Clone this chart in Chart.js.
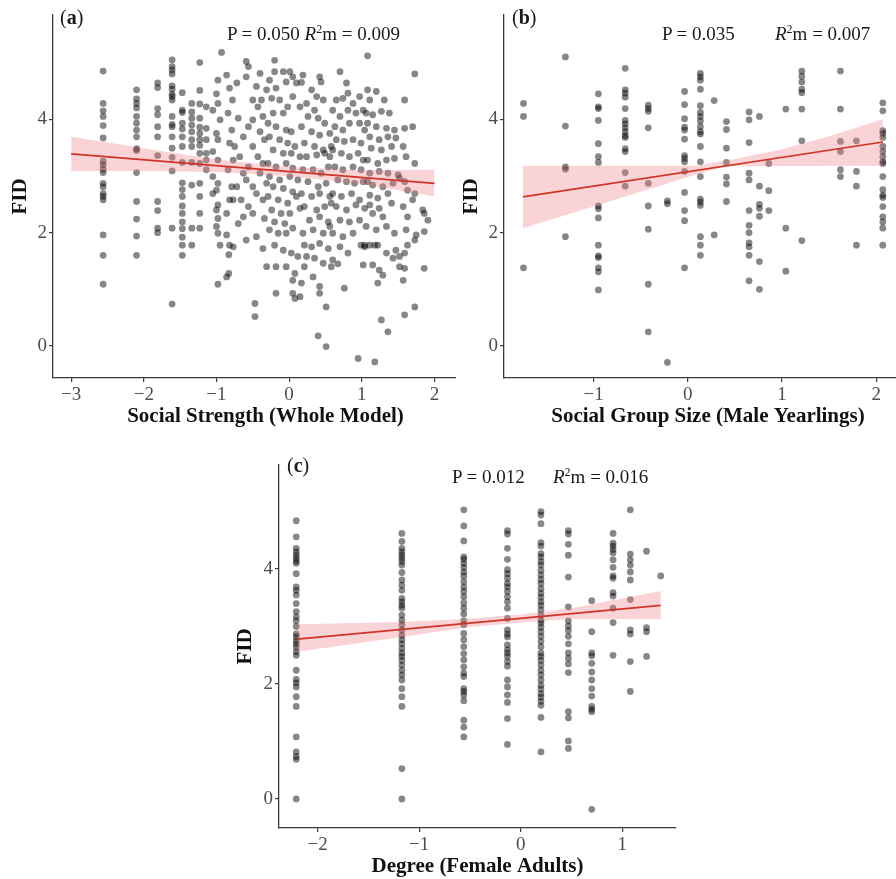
<!DOCTYPE html>
<html>
<head>
<meta charset="utf-8">
<script src="https://cdn.jsdelivr.net/npm/chart.js@4.4.0/dist/chart.umd.min.js"></script>
<style>
  html, body { margin: 0; padding: 0; background: #fff; overflow: hidden; width: 896px; height: 879px; }
  canvas { position: absolute; background: #fff; }
  .lab { position: absolute; font-family: 'Liberation Serif', serif; color: #1a1a1a; white-space: nowrap; line-height: 1; }
  .lab sup { font-size: 12px; vertical-align: 7px; line-height: 0; }
</style>
</head>
<body>
<canvas id="chartA" width="482" height="440" style="left:0px;top:0px"></canvas>
<canvas id="chartB" width="460" height="440" style="left:456px;top:0px"></canvas>
<canvas id="chartC" width="451" height="429" style="left:229px;top:450px"></canvas>

<div class="lab" style="left:60px;top:7px;font-size:20px">(<b>a</b>)</div>
<div class="lab" style="left:227px;top:24px;font-size:19px">P = 0.050 <i>R</i><sup>2</sup>m = 0.009</div>

<div class="lab" style="left:512px;top:7px;font-size:20px">(<b>b</b>)</div>
<div class="lab" style="left:662px;top:24px;font-size:19px">P = 0.035</div>
<div class="lab" style="left:775px;top:24px;font-size:19px"><i>R</i><sup>2</sup>m = 0.007</div>

<div class="lab" style="left:287px;top:455px;font-size:20px">(<b>c</b>)</div>
<div class="lab" style="left:452px;top:467px;font-size:19px">P = 0.012</div>
<div class="lab" style="left:553px;top:467px;font-size:19px"><i>R</i><sup>2</sup>m = 0.016</div>

<script>
// shared y ticks
const ticksFID = [0, 2, 4];

// ---- (a) Social Strength (Whole Model) ----
const ticksA = [-3, -2, -1, 0, 1, 2];
// vertical stacks on the left side
const colStrengthA = [-2.56, -2.10, -1.81, -1.61, -1.47, -1.34, -1.23, -1.14];
const colFidA = [
  [4.85, 4.28, 4.15, 4.05, 3.89, 3.67, 3.26, 3.2, 3.12, 3.06, 2.87, 2.81, 2.69, 2.64, 2.58, 1.96, 1.6, 1.09],
  [4.52, 4.36, 4.28, 4.2, 4.05, 3.93, 3.81, 3.69, 3.48, 3.45, 3.06, 2.55, 2.24, 1.94, 1.6],
  [4.64, 4.56, 4.19, 4.08, 3.87, 3.69, 3.36, 2.55, 2.39, 2.08, 2.0],
  [5.05, 4.93, 4.87, 4.8, 4.59, 4.53, 4.44, 4.4, 4.34, 4.05, 3.91, 3.87, 3.69, 3.49, 3.33, 3.09, 2.08, 0.74],
  [4.47, 4.16, 4.12, 3.93, 3.83, 3.69, 3.52, 3.24, 2.88, 2.76, 2.64, 2.47, 2.34, 2.19, 2.07, 1.92, 1.78, 1.6],
  [4.28, 4.13, 4.02, 3.9, 3.78, 3.64, 3.52, 3.24, 2.84, 2.08, 1.78],
  [5.0, 4.51, 4.27, 4.02, 3.86, 3.75, 3.64, 3.54, 3.4, 3.22, 2.87, 2.64, 2.34, 2.08],
  [4.22, 3.84, 3.64, 3.4, 3.28, 3.11]
];
// the scattered cloud, [strength, FID]
const cloudA = [
  [-0.93,5.18],[-0.98,4.69],[-1.0,4.45],[-0.98,4.28],[-1.05,4.16],[-0.95,3.99],[-1.0,3.75],[-0.98,3.64],[-1.05,3.43],[-0.98,3.28],
  [-1.05,2.99],[-0.98,2.87],[-1.0,2.75],[-1.05,2.69],[-0.98,2.49],[-1.0,2.4],[-0.98,2.25],[-1.0,2.11],[-0.98,1.99],[-0.95,1.78],
  [-0.98,1.09],[-0.86,1.22],[-0.83,1.28],[-0.82,1.78],[-0.86,1.96],[-0.83,1.61],[-0.86,2.34],[-0.82,2.58],[-0.79,2.81],[-0.84,3.11],
  [-0.77,3.28],[-0.82,3.58],[-0.79,3.81],[-0.84,4.11],[-0.78,4.34],[-0.82,4.55],[-0.86,4.78],[-0.72,4.64],[-0.77,1.75],
  [-0.59,5.02],[-0.56,4.93],[-0.59,4.75],[-0.50,4.34],[-0.45,4.58],[-0.43,4.22],[-0.70,4.02],[-0.56,3.87],[-0.50,3.99],[-0.40,3.78],
  [-0.63,3.69],[-0.75,3.52],[-0.68,3.34],[-0.50,3.52],[-0.56,3.16],[-0.63,3.05],[-0.59,2.93],[-0.72,2.81],[-0.43,3.34],[-0.40,3.05],
  [-0.50,2.81],[-0.45,2.69],[-0.77,2.58],[-0.66,2.58],[-0.56,2.46],[-0.63,2.28],[-0.70,2.16],[-0.50,2.34],[-0.59,1.87],[-0.45,1.93],
  [-0.36,1.72],[-0.47,0.75],[-0.47,0.52],[-0.34,2.25],[-0.36,2.58],[-0.31,2.87],[-0.36,3.22],[-0.34,3.64],[-0.36,4.05],[-0.38,4.34],
  [-0.40,4.81],[-0.31,4.52],
  [-0.20,5.04],[-0.20,4.84],[-0.08,4.84],[0.01,4.84],[0.05,4.75],[-0.27,4.69],[-0.18,4.55],[-0.04,4.66],[0.10,4.64],[-0.24,4.37],
  [-0.13,4.34],[-0.02,4.22],[0.05,4.4],[0.15,4.22],[-0.22,4.11],[-0.08,4.11],[-0.29,3.93],[-0.18,3.87],[-0.04,3.81],[0.03,3.78],
  [-0.27,3.69],[-0.13,3.64],[-0.02,3.58],[0.08,3.52],[-0.22,3.46],[-0.08,3.4],[0.03,3.4],[0.15,3.34],[-0.29,3.22],[-0.18,3.16],
  [-0.04,3.22],[0.05,3.14],[-0.27,2.99],[-0.13,2.93],[0.01,2.99],[0.12,2.93],[-0.22,2.81],[-0.08,2.78],[0.05,2.72],[-0.29,2.64],
  [-0.15,2.58],[-0.02,2.52],[0.10,2.64],[-0.24,2.4],[-0.11,2.34],[0.01,2.34],[0.15,2.43],[-0.20,2.19],[-0.06,2.16],[0.05,2.08],
  [-0.27,2.05],[-0.15,1.99],[-0.04,1.99],[-0.20,1.78],[-0.08,1.69],[0.03,1.64],[0.12,1.58],[-0.31,1.4],[-0.18,1.4],[-0.04,1.4],
  [0.08,1.28],[0.05,1.16],[0.17,1.11],[-0.18,0.93],[0.05,0.93],[0.08,0.84],[0.15,0.87],
  [0.17,4.65],[0.19,4.78],[0.31,4.52],[0.42,4.75],[0.44,4.66],[0.38,4.4],[0.24,4.28],[0.35,4.16],[0.47,4.34],[0.26,4.05],
  [0.40,4.02],[0.49,3.93],[0.17,3.87],[0.31,3.78],[0.42,3.72],[0.56,3.75],[0.21,3.58],[0.35,3.52],[0.47,3.46],[0.58,3.52],
  [0.24,3.34],[0.38,3.37],[0.49,3.4],[0.56,3.34],[0.19,3.11],[0.33,3.11],[0.44,3.05],[0.54,3.16],[0.26,2.9],[0.40,2.81],
  [0.51,2.87],[0.17,2.69],[0.31,2.64],[0.42,2.69],[0.56,2.64],[0.21,2.46],[0.38,2.4],[0.49,2.46],[0.58,2.52],[0.28,2.22],
  [0.42,2.28],[0.54,2.19],[0.19,1.99],[0.33,2.05],[0.47,1.99],[0.56,2.11],[0.21,1.78],[0.31,1.75],[0.42,1.81],[0.54,1.72],
  [0.24,1.58],[0.35,1.55],[0.47,1.46],[0.58,1.4],[0.21,1.4],[0.33,1.22],[0.42,1.05],[0.42,0.93],[0.51,0.69],[0.40,0.18],[0.51,-0.01],
  [0.70,4.84],[0.79,4.64],[0.81,4.46],[0.65,4.34],[0.74,4.37],[0.88,4.28],[0.97,4.4],[0.60,4.16],[0.70,4.05],[0.81,4.16],
  [0.92,4.11],[1.02,4.16],[0.63,3.87],[0.74,3.81],[0.83,3.93],[0.97,3.93],[1.04,3.81],[0.65,3.64],[0.76,3.61],[0.88,3.64],
  [0.99,3.58],[0.60,3.46],[0.72,3.4],[0.83,3.34],[0.95,3.4],[1.02,3.28],[0.63,3.16],[0.74,3.11],[0.88,3.16],[0.99,3.11],
  [0.67,2.93],[0.79,2.9],[0.90,2.87],[1.02,2.9],[0.60,2.69],[0.72,2.64],[0.86,2.69],[0.97,2.58],[0.65,2.46],[0.79,2.4],
  [0.92,2.49],[1.04,2.43],[0.70,2.22],[0.83,2.19],[0.97,2.22],[0.60,1.99],[0.74,1.93],[0.88,1.99],[0.70,1.75],[0.81,1.64],
  [0.99,1.78],[1.04,1.75],[0.60,1.52],[0.67,1.45],[1.02,1.43],[0.76,1.02],[0.95,-0.22],
  [1.08,5.12],[1.08,4.52],[1.20,4.49],[1.11,4.34],[1.31,4.34],[1.06,4.11],[1.15,4.08],[1.27,4.14],[1.38,4.11],[1.08,3.93],
  [1.20,3.87],[1.34,3.84],[1.45,3.81],[1.11,3.69],[1.24,3.64],[1.36,3.69],[1.47,3.67],[1.13,3.49],[1.27,3.46],[1.41,3.52],
  [1.08,3.28],[1.22,3.22],[1.34,3.28],[1.45,3.31],[1.11,3.05],[1.24,3.08],[1.36,3.05],[1.50,3.02],[1.08,2.9],[1.15,2.84],
  [1.29,2.81],[1.43,2.87],[1.11,2.66],[1.22,2.61],[1.36,2.69],[1.11,2.49],[1.24,2.43],[1.41,2.52],[1.15,2.34],[1.29,2.28],
  [1.06,2.11],[1.20,2.05],[1.34,2.11],[1.45,1.99],[1.04,1.78],[1.11,1.78],[1.18,1.78],[1.22,1.78],[1.34,1.64],[1.47,1.69],
  [1.15,1.43],[1.24,1.34],[1.29,1.25],[1.22,1.11],[1.52,1.4],[1.43,1.55],[1.27,0.46],[1.36,0.25],[1.18,-0.28],
  [1.73,4.8],[1.59,4.34],[1.70,3.87],[1.59,3.84],[1.57,3.52],[1.61,3.34],[1.73,3.22],[1.52,2.96],[1.59,2.9],[1.63,2.75],
  [1.73,2.69],[1.57,2.46],[1.70,2.58],[1.63,2.28],[1.84,2.4],[1.86,2.34],[1.91,2.22],[1.61,2.05],[1.75,1.96],[1.63,1.78],
  [1.59,1.64],[1.73,1.87],[1.86,2.02],[1.59,1.37],[1.86,1.37],[1.57,1.16],[1.59,0.55],[1.73,0.69],[1.52,1.58]
];
const fitA = [[-3, 3.39], [2, 2.87]];
const bandHiA = [[-3, 3.69], [-2, 3.49], [-1, 3.29], [0, 3.16], [1, 3.10], [2, 3.11]];
const bandLoA = [[-3, 3.09], [-2, 3.09], [-1, 3.07], [0, 3.00], [1, 2.86], [2, 2.64]];

// ---- (b) Social Group Size (Male Yearlings) ----
const ticksB = [-1, 0, 1, 2];
const groupB = [-1.745, -1.30, -0.95, -0.665, -0.42, -0.217, -0.035, 0.133, 0.28, 0.41, 0.65, 0.76, 0.86, 1.04, 1.21, 1.62, 1.79, 2.07];
const fidB = [
  [4.28, 4.05, 1.38],
  [5.1, 3.88, 3.16, 3.12, 1.93],
  [4.45, 4.22, 4.19, 3.98, 3.57, 3.34, 3.24, 2.47, 2.42, 2.26, 1.78, 1.59, 1.56, 1.38, 1.31, 0.99],
  [4.9, 4.52, 4.46, 4.39, 4.19, 3.98, 3.92, 3.85, 3.78, 3.71, 3.68, 3.48, 3.43, 3.06, 2.82],
  [4.25, 4.19, 4.14, 3.85, 2.87, 2.47, 2.06, 1.09, 0.25],
  [2.56, 2.51, -0.29],
  [4.49, 4.26, 4.01, 3.86, 3.81, 3.65, 3.36, 3.31, 3.25, 3.08, 2.71, 2.39, 2.21, 1.38],
  [4.81, 4.75, 4.69, 4.53, 4.24, 4.12, 4.05, 3.97, 3.87, 3.78, 3.74, 3.52, 3.25, 2.99, 2.59, 2.54, 2.48, 1.93, 1.78, 1.6],
  [4.33, 1.96],
  [3.96, 3.82, 3.49, 3.24, 2.98, 2.86, 2.55],
  [4.13, 3.99, 3.59, 3.05, 2.93, 2.39, 2.13, 2.0, 1.82, 1.75, 1.6, 1.15],
  [4.05, 2.82, 2.5, 2.43, 2.29, 1.49, 1.0],
  [3.22, 2.74, 2.39],
  [4.18, 2.08, 1.32],
  [4.85, 4.76, 4.66, 4.53, 4.47, 4.18, 3.62, 1.86],
  [4.85, 4.18, 3.61, 3.43, 3.11, 2.99],
  [3.62, 3.08, 2.82, 1.78],
  [4.29, 4.15, 3.8, 3.75, 3.68, 3.52, 3.43, 3.34, 3.25, 3.22, 2.99, 2.76, 2.66, 2.62, 2.46, 2.28, 2.19, 2.08, 1.78]
];
const fitB = [[-1.75, 2.63], [2.07, 3.60]];
const bandHiB = [[-1.75, 3.18], [0.1, 3.18], [0.5, 3.3], [1, 3.47], [1.5, 3.7], [2.07, 4.0]];
const bandLoB = [[-1.75, 2.08], [-1, 2.46], [0, 2.98], [0.4, 3.17], [2.07, 3.18]];

// ---- (c) Degree (Female Adults) ----
const ticksC = [-2, -1, 0, 1];
const degreeC = [-2.21, -1.17, -0.56, -0.13, 0.20, 0.47, 0.70, 0.91, 1.08, 1.24, 1.38];
const fidC = [
  [4.84, 4.56, 4.36, 4.30, 4.24, 4.19, 4.14, 4.10, 3.92, 3.69, 3.63, 3.55, 3.40, 3.26, 3.17, 3.10, 3.0, 2.87, 2.82, 2.75, 2.70, 2.64, 2.56, 2.50, 2.24, 2.08, 2.02, 1.95, 1.78, 1.61, 1.08, 0.82, 0.74, 0.69, 0.0],
  [4.62, 4.48, 4.36, 4.30, 4.24, 4.19, 4.13, 4.07, 3.94, 3.81, 3.72, 3.63, 3.49, 3.43, 3.37, 3.32, 3.20, 3.11, 3.03, 2.94, 2.85, 2.77, 2.70, 2.62, 2.54, 2.48, 2.41, 2.33, 2.24, 2.16, 2.07, 1.92, 1.78, 1.61, 0.53, 0.0],
  [5.03, 4.75, 4.49, 4.21, 4.17, 4.10, 4.03, 3.95, 3.88, 3.78, 3.69, 3.61, 3.52, 3.41, 3.32, 3.22, 3.10, 3.03, 2.88, 2.77, 2.65, 2.53, 2.42, 2.30, 2.19, 2.13, 1.92, 1.87, 1.81, 1.71, 1.37, 1.25, 1.08],
  [4.67, 4.61, 4.36, 4.17, 3.99, 3.92, 3.84, 3.75, 3.69, 3.61, 3.52, 3.43, 3.32, 3.14, 2.94, 2.87, 2.82, 2.68, 2.60, 2.54, 2.48, 2.39, 2.31, 2.07, 1.95, 1.81, 1.68, 1.40, 0.95],
  [5.0, 4.94, 4.79, 4.46, 4.40, 4.27, 4.21, 4.13, 4.07, 3.98, 3.90, 3.82, 3.75, 3.66, 3.58, 3.51, 3.43, 3.37, 3.29, 3.20, 3.11, 3.06, 2.99, 2.91, 2.83, 2.74, 2.65, 2.54, 2.48, 2.41, 2.33, 2.24, 2.16, 2.07, 1.98, 1.91, 1.83, 1.77, 1.70, 1.63, 1.42, 0.82],
  [4.67, 4.61, 4.43, 4.24, 3.86, 3.34, 3.10, 3.01, 2.93, 2.83, 2.70, 2.54, 2.45, 2.35, 2.20, 1.52, 1.41, 1.01, 0.88],
  [3.45, 2.91, 2.54, 2.49, 2.36, 2.21, 2.07, 1.92, 1.79, 1.61, 1.56, 1.52, -0.18],
  [4.62, 4.45, 4.40, 4.34, 4.28, 4.16, 4.03, 3.88, 3.84, 3.59, 3.53, 3.32, 3.07, 2.50],
  [5.03, 4.26, 4.16, 4.07, 3.95, 3.81, 3.47, 2.94, 2.87, 2.39, 1.87],
  [4.31, 2.98, 2.91, 2.48],
  [3.88]
];
const fitC = [[-2.2, 2.78], [1.38, 3.37]];
const bandHiC = [[-2.2, 3.04], [-1.17, 3.08], [-0.56, 3.13], [0, 3.21], [0.5, 3.32], [1.38, 3.62]];
const bandLoC = [[-2.2, 2.56], [-1.17, 2.82], [-0.56, 2.98], [0, 3.07], [0.5, 3.13], [1.38, 3.13]];

const SERIF = "'Liberation Serif', 'DejaVu Serif', serif";
const RED = '#cf3427';
const PINK = 'rgba(238,120,130,0.33)';
const DOT = 'rgba(0,0,0,0.47)';
const AXIS = '#3a3a3a';

const xy = pairs => pairs.map(p => ({ x: p[0], y: p[1] }));
const fromCols = (xs, ys) => xs.flatMap((x, i) => ys[i].map(y => ({ x: x, y: y })));
const minus = v => (v < 0 ? '\u2212' + Math.abs(v) : String(v));

function makePanel(id, p) {
  return new Chart(document.getElementById(id), {
    type: 'line',
    data: {
      datasets: [
        { data: xy(p.fit), borderColor: RED, borderWidth: 1.7, pointRadius: 0, order: 0 },
        { data: xy(p.hi), borderWidth: 0, borderColor: 'rgba(0,0,0,0)', pointRadius: 0, fill: '+1', backgroundColor: PINK, order: 1 },
        { data: xy(p.lo), borderWidth: 0, borderColor: 'rgba(0,0,0,0)', pointRadius: 0, fill: false, order: 2 },
        { data: p.points, showLine: false, pointRadius: 3.4, pointBackgroundColor: DOT, pointBorderWidth: 0, order: 3 }
      ]
    },
    options: {
      responsive: false,
      animation: false,
      events: [],
      layout: { padding: { top: 15, right: p.padRight, left: 0, bottom: 0 } },
      plugins: { legend: { display: false }, tooltip: { enabled: false } },
      scales: {
        x: {
          type: 'linear', min: p.xMin, max: p.xMax,
          afterBuildTicks: s => { s.ticks = p.xTicks.map(v => ({ value: v })); },
          afterFit: s => { s.height = p.xH; },
          ticks: { font: { family: SERIF, size: 19 }, color: '#4d4d4d', padding: 2, callback: minus, maxRotation: 0 },
          grid: { drawOnChartArea: false, drawTicks: true, tickLength: 4, color: AXIS, lineWidth: 1.2 },
          border: { display: true, color: AXIS, width: 1.3 },
          title: { display: true, text: p.xTitle, color: '#111', font: { family: SERIF, size: 21, weight: 'bold' }, padding: { top: 0, bottom: p.titlePad } }
        },
        y: {
          type: 'linear', min: p.yMin, max: p.yMax,
          afterBuildTicks: s => { s.ticks = ticksFID.map(v => ({ value: v })); },
          afterFit: s => { s.width = p.yW; },
          ticks: { font: { family: SERIF, size: 19 }, color: '#4d4d4d', padding: 2, callback: minus },
          grid: { drawOnChartArea: false, drawTicks: true, tickLength: 4, color: AXIS, lineWidth: 1.2 },
          border: { display: true, color: AXIS, width: 1.3 },
          title: { display: true, text: 'FID', color: '#111', font: { family: SERIF, size: 21, weight: 'bold' }, padding: { top: p.yTitlePad, bottom: 0 } }
        }
      }
    }
  });
}

makePanel('chartA', {
  points: fromCols(colStrengthA, colFidA).concat(xy(cloudA)),
  fit: fitA, hi: bandHiA, lo: bandLoA,
  xTicks: ticksA, xTitle: 'Social Strength (Whole Model)',
  xMin: -3.25, xMax: 2.60, yMin: -0.564, yMax: 5.84,
  xH: 62, yW: 53, padRight: 3, titlePad: 11, yTitlePad: 8
});

makePanel('chartB', {
  points: fromCols(groupB, fidB),
  fit: fitB, hi: bandHiB, lo: bandLoB,
  xTicks: ticksB, xTitle: 'Social Group Size (Male Yearlings)',
  xMin: -1.952, xMax: 2.38, yMin: -0.564, yMax: 5.84,
  xH: 62, yW: 48, padRight: 0, titlePad: 11, yTitlePad: 3
});

makePanel('chartC', {
  points: fromCols(degreeC, fidC),
  fit: fitC, hi: bandHiC, lo: bandLoC,
  xTicks: ticksC, xTitle: 'Degree (Female Adults)',
  xMin: -2.38, xMax: 1.53, yMin: -0.504, yMax: 5.81,
  xH: 51, yW: 50, padRight: 3, titlePad: 0, yTitlePad: 4
});
</script>
</body>
</html>
